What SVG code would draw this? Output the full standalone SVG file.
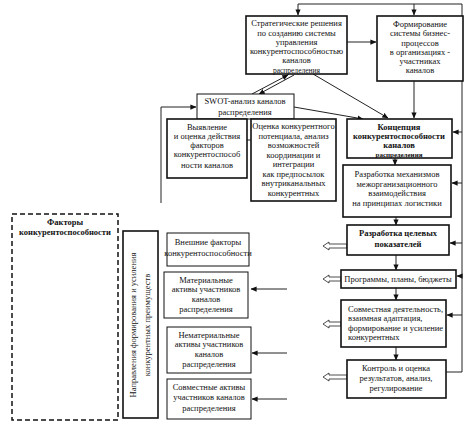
<svg xmlns="http://www.w3.org/2000/svg" width="474" height="426" viewBox="0 0 474 426">
<style>
text{font-family:"Liberation Serif","Times New Roman",serif;font-size:8.5px;fill:#111;text-anchor:middle}
.b{font-weight:bold}
.l{text-anchor:start}
.bx{fill:#fff;stroke:#111;stroke-width:1.6}
.tn{fill:#fff;stroke:#111;stroke-width:1}
.c{fill:none;stroke:#222;stroke-width:1}
.h{fill:#fff;stroke:#222;stroke-width:0.8}
</style>
<defs>
<marker id="a" viewBox="0 0 8 8" refX="7.5" refY="4" markerWidth="6" markerHeight="6" markerUnits="userSpaceOnUse" orient="auto">
<path d="M0,0.5 L8,4 L0,7.5 Z" fill="#111"/>
</marker>
</defs>
<rect width="474" height="426" fill="#fff"/>

<g id="connectors">
<polyline class="c" points="446,372 462,372 462,4 298,4 298,15" marker-end="url(#a)"/>
<line class="c" x1="414" y1="4" x2="414" y2="15" marker-end="url(#a)"/>
<line class="c" x1="347" y1="42" x2="376" y2="42" marker-end="url(#a)"/>
<line class="c" x1="414" y1="81" x2="414" y2="118" marker-end="url(#a)"/>
<line class="c" x1="313" y1="74" x2="388" y2="118" marker-end="url(#a)"/>
<line class="c" x1="294" y1="107" x2="363" y2="119" marker-end="url(#a)"/>
<line class="c" x1="252" y1="94" x2="288" y2="75" marker-end="url(#a)"/>
<line class="c" x1="294" y1="75" x2="259" y2="94" marker-end="url(#a)"/>
<polyline class="c" points="161,203 161,107 196,107" marker-end="url(#a)"/>
<line class="c" x1="247" y1="140" x2="251" y2="140"/>
<line class="c" x1="462" y1="132" x2="453" y2="132" marker-end="url(#a)"/>
<line class="c" x1="462" y1="183" x2="452" y2="183" marker-end="url(#a)"/>
<line class="c" x1="462" y1="243" x2="450" y2="243" marker-end="url(#a)"/>
<line class="c" x1="462" y1="276" x2="457" y2="276" marker-end="url(#a)"/>
<line class="c" x1="462" y1="315" x2="447" y2="315" marker-end="url(#a)"/>
<line class="c" x1="395" y1="158" x2="395" y2="165" marker-end="url(#a)"/>
<line class="c" x1="396" y1="217" x2="396" y2="225" marker-end="url(#a)"/>
<line class="c" x1="396" y1="255" x2="396" y2="270" marker-end="url(#a)"/>
<line class="c" x1="396" y1="288" x2="396" y2="300" marker-end="url(#a)"/>
<line class="c" x1="396" y1="347" x2="396" y2="360" marker-end="url(#a)"/>
<line class="c" x1="287" y1="289" x2="251" y2="289" marker-end="url(#a)"/>
<line class="c" x1="287" y1="353" x2="252" y2="353" marker-end="url(#a)"/>
<line class="c" x1="287" y1="399" x2="252" y2="399" marker-end="url(#a)"/>
<polygon class="h" points="323,246 329,242 329,244 347,244 347,248 329,248 329,250"/>
<polygon class="h" points="323,279 329,275 329,277 341,277 341,281 329,281 329,283"/>
<polygon class="h" points="323,324 329,320 329,322 341,322 341,326 329,326 329,328"/>
<polygon class="h" points="323,377 329,373 329,375 347,375 347,379 329,379 329,381"/>
</g>

<g id="strategic">
<rect class="bx" x="246" y="16" width="101" height="58"/>
<text x="296.5" y="26">Стратегические решения</text>
<text x="296.5" y="35.5">по созданию системы</text>
<text x="296.5" y="45">управления</text>
<text x="296.5" y="54">конкурентоспособностью</text>
<text x="296.5" y="63">каналов</text>
<text x="296.5" y="72.5" style="font-size:7.5px">распределения</text>
</g>

<g id="business">
<rect class="bx" x="377" y="16" width="86" height="65"/>
<text x="420" y="27">Формирование</text>
<text x="420" y="36">системы бизнес-</text>
<text x="420" y="46">процессов</text>
<text x="420" y="55">в организациях -</text>
<text x="420" y="64">участниках</text>
<text x="420" y="73">каналов</text>
</g>

<g id="swot">
<rect class="tn" x="197" y="94" width="97" height="25"/>
<text x="245" y="104">SWOT-анализ каналов</text>
<text x="245" y="115">распределения</text>
</g>

<g id="identify">
<rect class="bx" x="167" y="119" width="80" height="59"/>
<text x="207" y="130">Выявление</text>
<text x="207" y="139">и оценка действия</text>
<text x="207" y="148">факторов</text>
<text x="207" y="157">конкурентоспособ</text>
<text x="207" y="168">ности каналов</text>
</g>

<g id="potential">
<rect class="bx" x="251" y="119" width="85" height="82"/>
<text x="293.5" y="129">Оценка конкурентного</text>
<text x="293.5" y="138.5">потенциала, анализ</text>
<text x="293.5" y="148">возможностей</text>
<text x="293.5" y="157.5">координации и</text>
<text x="293.5" y="167">интеграции</text>
<text x="293.5" y="176.5">как предпосылок</text>
<text x="293.5" y="186">внутриканальных</text>
<text x="293.5" y="195.5">конкурентных</text>
</g>

<g id="concept">
<rect class="bx" x="347" y="119" width="105" height="39"/>
<text class="b" x="399" y="130">Концепция</text>
<text class="b" x="399" y="139">конкурентоспособности</text>
<text class="b" x="399" y="148">каналов</text>
<text class="b" x="399" y="157" style="font-size:7px">распределения</text>
</g>

<g id="mechanisms">
<rect class="bx" x="343" y="165" width="108" height="52"/>
<text x="397" y="177">Разработка механизмов</text>
<text x="397" y="186.5">межорганизационного</text>
<text x="397" y="196">взаимодействия</text>
<text x="397" y="205.5">на принципах логистики</text>
</g>

<g id="targets">
<rect class="bx" x="347" y="225" width="102" height="30"/>
<text class="b" x="398" y="236">Разработка целевых</text>
<text class="b" x="398" y="247">показателей</text>
</g>

<g id="programs">
<rect class="bx" x="341" y="270" width="115" height="18"/>
<text x="398" y="282">Программы, планы, бюджеты</text>
</g>

<g id="joint">
<rect class="bx" x="341" y="300" width="105" height="47"/>
<text class="l" x="348" y="311.5">Совместная деятельность,</text>
<text class="l" x="348" y="321">взаимная адаптация,</text>
<text class="l" x="348" y="330.5">формирование и усиление</text>
<text class="l" x="348" y="340">конкурентных</text>
</g>

<g id="control">
<rect class="bx" x="347" y="360" width="99" height="38"/>
<text x="396" y="371">Контроль и оценка</text>
<text x="396" y="381">результатов, анализ,</text>
<text x="396" y="391">регулирование</text>
</g>

<g id="factors">
<rect x="12" y="214" width="106" height="206" fill="none" stroke="#111" stroke-width="1.5" stroke-dasharray="5,3"/>
<text class="b" x="65" y="225">Факторы</text>
<text class="b" x="65" y="235">конкурентоспособности</text>
</g>

<g id="directions">
<rect class="bx" x="123" y="231" width="35" height="187"/>
<text transform="translate(136,325) rotate(-90)">Направления формирования и усиления</text>
<text transform="translate(150,325) rotate(-90)">конкурентных преимуществ</text>
</g>

<g id="external">
<rect class="tn" x="167" y="233" width="82" height="33"/>
<text x="208" y="245">Внешние факторы</text>
<text x="208" y="256">конкурентоспособности</text>
</g>

<g id="material">
<rect class="tn" x="164" y="272" width="84" height="46"/>
<text x="206" y="282.5">Материальные</text>
<text x="206" y="292">активы участников</text>
<text x="206" y="301.5">каналов</text>
<text x="206" y="312">распределения</text>
</g>

<g id="intangible">
<rect class="tn" x="167" y="327" width="84" height="46"/>
<text x="209" y="337.5">Нематериальные</text>
<text x="209" y="347">активы участников</text>
<text x="209" y="356.5">каналов</text>
<text x="209" y="367">распределения</text>
</g>

<g id="jointassets">
<rect class="tn" x="167" y="379" width="84" height="40"/>
<text x="209" y="390">Совместные активы</text>
<text x="209" y="400">участников каналов</text>
<text x="209" y="411">распределения</text>
</g>
</svg>
